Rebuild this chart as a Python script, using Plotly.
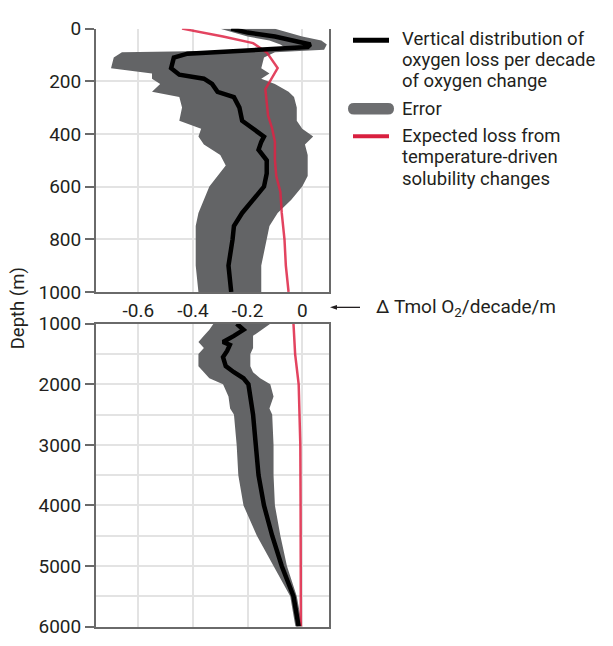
import plotly.graph_objects as go

# ---------------- data ----------------
# Upper panel (0-1000 m)
top_mean_depth = [0, 15, 30, 45, 60, 70, 85, 95, 110, 150, 175, 190, 210, 240, 260, 300, 350,
                  380, 410, 430, 460, 500, 550, 600, 650, 700, 750, 800, 900, 1000]
top_mean_val = [-0.26, -0.20, -0.10, -0.03, 0.03, 0.02, -0.25, -0.42, -0.47, -0.48, -0.45,
                -0.36, -0.33, -0.31, -0.25, -0.23, -0.22, -0.18, -0.14, -0.15, -0.16, -0.13,
                -0.13, -0.14, -0.18, -0.22, -0.25, -0.255, -0.27, -0.26]

top_band_depth = [0, 30, 45, 60, 80, 90, 110, 150, 170, 190, 210, 240, 260, 300, 350, 380, 410,
                  440, 480, 520, 560, 600, 650, 700, 750, 800, 900, 1000]
top_band_low = [-0.30, -0.20, -0.12, -0.08, -0.05, -0.66, -0.69, -0.70, -0.55, -0.55, -0.52,
                -0.55, -0.45, -0.44, -0.45, -0.37, -0.38, -0.36, -0.30, -0.28, -0.31, -0.34,
                -0.36, -0.38, -0.39, -0.39, -0.39, -0.38]
top_band_high = [-0.10, 0.0, 0.07, 0.09, 0.08, -0.10, -0.14, -0.15, -0.12, -0.15, -0.10, -0.05,
                 -0.03, -0.02, -0.02, 0.0, 0.04, 0.01, 0.02, 0.02, 0.02, 0.0, -0.04, -0.09,
                 -0.12, -0.13, -0.15, -0.15]

top_sol_depth = [0, 30, 55, 90, 150, 200, 230, 280, 330, 380, 430, 500, 560, 620, 700,
                 800, 900, 1000]
top_sol_val = [-0.44, -0.29, -0.18, -0.13, -0.09, -0.12, -0.135, -0.13, -0.125, -0.11,
               -0.10, -0.10, -0.095, -0.08, -0.075, -0.065, -0.06, -0.05]

# Lower panel (1000-6000 m)
bot_mean_depth = [1000, 1100, 1200, 1300, 1350, 1450, 1550, 1700, 1800, 1900, 2000, 2200,
                  2500, 3000, 3500, 4000, 4500, 5000, 5500, 6000]
bot_mean_val = [-0.24, -0.215, -0.25, -0.29, -0.265, -0.275, -0.29, -0.28, -0.25, -0.215,
                -0.197, -0.19, -0.18, -0.17, -0.16, -0.14, -0.11, -0.075, -0.032, -0.013]

bot_band_depth = [1000, 1100, 1200, 1300, 1400, 1500, 1700, 1800, 1900, 2000, 2100, 2200,
                  2400, 2500, 3000, 3500, 4000, 4500, 5000, 5500, 6000]
bot_band_low = [-0.325, -0.34, -0.36, -0.38, -0.36, -0.38, -0.38, -0.36, -0.34, -0.29, -0.28,
                -0.27, -0.264, -0.25, -0.24, -0.234, -0.215, -0.166, -0.105, -0.044, -0.025]
bot_band_high = [-0.117, -0.148, -0.18, -0.18, -0.18, -0.19, -0.19, -0.18, -0.154, -0.117,
                 -0.11, -0.105, -0.12, -0.11, -0.105, -0.105, -0.10, -0.08, -0.056, -0.02, 0.0]

bot_sol_depth = [1000, 1500, 2000, 3000, 4000, 5000, 6000]
bot_sol_val = [-0.032, -0.026, -0.013, -0.007, -0.006, -0.005, -0.005]

x_ticks = [-0.6, -0.4, -0.2, 0]
x_tick_text = ["-0.6", "-0.4", "-0.2", "0"]
top_y_ticks = [0, 200, 400, 600, 800, 1000]
bot_y_ticks = [1000, 2000, 3000, 4000, 5000, 6000]

legend_line_labels = ["Vertical distribution of", "oxygen loss per decade", "of oxygen change"]
legend_error_label = "Error"
legend_sol_labels = ["Expected loss from", "temperature-driven", "solubility changes"]
axis_label = "Δ Tmol O<sub>2</sub>/decade/m"
y_title = "Depth (m)"

# ---------------- styling ----------------
W, H = 613, 646
OFF = 8  # page body margin of the html page
FONT = "Roboto"
TXT = "#231f20"
AX = "#6a6a6a"
GRID = "#e3e3e3"
BAND = "#636466"
RED = "rgba(222, 35, 68, 0.85)"
BLACK = "#000000"
FS = 19
LFS = 18.5


def px_x(p):
    return (p - OFF) / W


def px_y(p):
    return 1 - (p - OFF) / H


fig = go.Figure()


def band(depth, low, high, xa, ya):
    xs = list(low) + list(high)[::-1]
    ys = list(depth) + list(depth)[::-1]
    fig.add_trace(go.Scatter(x=xs, y=ys, fill="toself", fillcolor=BAND, mode="lines",
                             line=dict(width=0, color=BAND), xaxis=xa, yaxis=ya,
                             hoverinfo="skip", showlegend=False))


band(top_band_depth, top_band_low, top_band_high, "x", "y")
band(bot_band_depth, bot_band_low, bot_band_high, "x2", "y2")

fig.add_trace(go.Scatter(x=top_sol_val, y=top_sol_depth, mode="lines",
                         line=dict(color=RED, width=2.5), xaxis="x", yaxis="y", showlegend=False))
fig.add_trace(go.Scatter(x=bot_sol_val, y=bot_sol_depth, mode="lines",
                         line=dict(color=RED, width=2.5), xaxis="x2", yaxis="y2", showlegend=False))
fig.add_trace(go.Scatter(x=top_mean_val, y=top_mean_depth, mode="lines",
                         line=dict(color=BLACK, width=4.5), xaxis="x", yaxis="y", showlegend=False))
fig.add_trace(go.Scatter(x=bot_mean_val, y=bot_mean_depth, mode="lines",
                         line=dict(color=BLACK, width=4.5), xaxis="x2", yaxis="y2", showlegend=False))

xdom = [px_x(96), px_x(329)]
xrange = [-0.755, 0.098]

common_x = dict(range=xrange, domain=xdom, tickvals=x_ticks, showgrid=True, gridcolor=GRID,
                gridwidth=2, zeroline=False, linecolor=AX, linewidth=2, fixedrange=True)

fig.update_layout(
    width=W, height=H, autosize=False,
    margin=dict(l=0, r=0, t=0, b=0),
    paper_bgcolor="white", plot_bgcolor="white",
    font=dict(family=FONT, size=FS, color=TXT),
    showlegend=False,
    xaxis=dict(common_x, anchor="y", showline=True, mirror=False, ticktext=x_tick_text,
               showticklabels=True, ticks="", tickfont=dict(size=FS, color=TXT)),
    yaxis=dict(domain=[px_y(291), px_y(18)], range=[1000, 0], tickvals=top_y_ticks,
               showgrid=True, gridcolor=GRID, gridwidth=2, zeroline=False,
               showline=True, linecolor=AX, linewidth=2, mirror=True,
               ticks="outside", ticklen=9, tickwidth=2, tickcolor=AX,
               tickfont=dict(size=FS, color=TXT), anchor="x"),
    xaxis2=dict(common_x, anchor="y2", showline=True, mirror=True, showticklabels=False,
                ticks=""),
    yaxis2=dict(domain=[px_y(638), px_y(324)], range=[6000, 1000], tickvals=bot_y_ticks,
                showgrid=True, gridcolor=GRID, gridwidth=2, zeroline=False,
                minor=dict(dtick=500, showgrid=True, gridcolor=GRID, gridwidth=2),
                showline=True, linecolor=AX, linewidth=2, mirror=True,
                ticks="outside", ticklen=9, tickwidth=2, tickcolor=AX,
                tickfont=dict(size=FS, color=TXT), anchor="x2"),
)

shapes = []
annotations = []

# axis title arrow + label
shapes.append(dict(type="line", xref="paper", yref="paper",
                   x0=px_x(334), x1=px_x(360), y0=px_y(307), y1=px_y(307),
                   line=dict(color=TXT, width=1.3)))
shapes.append(dict(type="path", xref="paper", yref="paper",
                   path=f"M {px_x(330)} {px_y(307)} L {px_x(337)} {px_y(304.5)} L {px_x(337)} {px_y(309.5)} Z",
                   fillcolor=TXT, line=dict(width=0)))
annotations.append(dict(text=axis_label, xref="paper", yref="paper", x=px_x(374), y=px_y(307),
                        xanchor="left", yanchor="middle", showarrow=False,
                        font=dict(size=FS, color=TXT)))

annotations.append(dict(text=y_title, xref="paper", yref="paper", x=px_x(18), y=px_y(308),
                        textangle=-90, xanchor="center", yanchor="middle", showarrow=False,
                        font=dict(size=18.5, color=TXT)))

# legend markers
shapes.append(dict(type="line", xref="paper", yref="paper", x0=px_x(353), x1=px_x(389),
                   y0=px_y(30), y1=px_y(30), line=dict(color=BLACK, width=5)))
shapes.append(dict(type="path", xref="paper", yref="paper",
                   path=(f"M {px_x(354)} {px_y(95)} L {px_x(388)} {px_y(95)} "
                         f"Q {px_x(394)} {px_y(95)} {px_x(394)} {px_y(101)} "
                         f"Q {px_x(394)} {px_y(107)} {px_x(388)} {px_y(107)} "
                         f"L {px_x(354)} {px_y(107)} "
                         f"Q {px_x(348)} {px_y(107)} {px_x(348)} {px_y(101)} "
                         f"Q {px_x(348)} {px_y(95)} {px_x(354)} {px_y(95)} Z"),
                   fillcolor="#6d6e70", line=dict(width=0)))
shapes.append(dict(type="line", xref="paper", yref="paper", x0=px_x(353), x1=px_x(389),
                   y0=px_y(129.5), y1=px_y(129.5), line=dict(color="#d9203f", width=4)))

legend_rows = list(zip(legend_line_labels, [28.5, 50.5, 72.5]))
legend_rows += [(legend_error_label, 101)]
legend_rows += list(zip(legend_sol_labels, [129.5, 151.5, 173.5]))
for label, yc in legend_rows:
    annotations.append(dict(text=label, xref="paper", yref="paper", x=px_x(401), y=px_y(yc),
                            xanchor="left", yanchor="middle", align="left", showarrow=False,
                            borderpad=0, font=dict(size=LFS, color=TXT)))

fig.update_layout(shapes=shapes, annotations=annotations)

fig.write_html("out.html")
